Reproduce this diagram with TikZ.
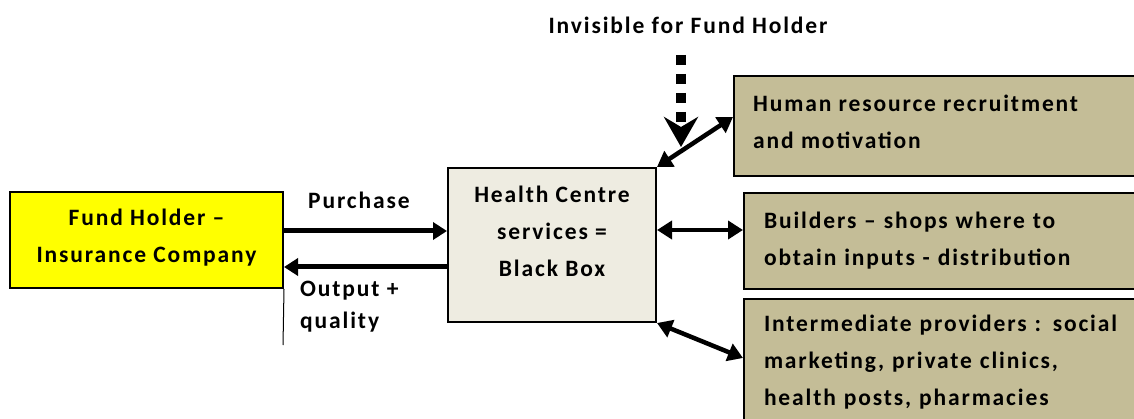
\documentclass[tikz,border=0pt]{standalone}
\usepackage{fontspec}
\setmainfont{Carlito}[LetterSpace=8]
\usetikzlibrary{arrows.meta}
\definecolor{fundyellow}{HTML}{FFFF00}
\definecolor{boxlight}{HTML}{EEECE1}
\definecolor{boxtan}{HTML}{C4BD97}
\begin{document}
\begin{tikzpicture}[x=1pt,y=-1pt,
  every node/.style={font=\bfseries\fontsize{23.5}{37}\selectfont},
  frame/.style={draw=black,line width=2pt,rectangle,inner sep=0pt},
  sidebox/.style={frame,fill=boxtan,anchor=north west,minimum width=430pt,
    text width=390pt,inner xsep=20pt,align=left},
  bigarrow/.style={line width=5pt,-{Triangle[length=14pt,width=17pt]}},
  duoarrow/.style={line width=4.5pt,{Triangle[length=15pt,width=18pt]}-{Triangle[length=15pt,width=18pt]}},
  lbl/.style={inner sep=0pt}]
\useasboundingbox (0,0) rectangle (1134,419);
\clip (0,0) rectangle (1134,419);

% left and central boxes
\node[frame,fill=fundyellow,minimum width=273pt,minimum height=96pt]
  (fund) at (146.5,240) {};
\node[lbl,align=center] (fundtext) at ([yshift=2pt]fund.center)
  {Fund Holder –\\Insurance Company};
\node[frame,fill=boxlight,minimum width=208pt,minimum height=154pt]
  (hc) at (552,245) {};
\node[lbl,align=center,anchor=north] (hctext) at ([yshift=-19pt]hc.north)
  {Health Centre\\services =\\Black Box};

% boxes on the right
\node[sidebox,minimum height=100pt] (hr) at (733,75) {};
\node[lbl,align=left,anchor=west] (hrtext) at ([xshift=20pt,yshift=4pt]hr.west)
  {Human resource recruitment\\and motivation};
\node[sidebox,minimum height=96pt] (bld) at (743,192)
  {Builders – shops where to\\obtain inputs - distribution};
\node[sidebox,minimum height=127pt] (inter) at (743,298)
  {Intermediate providers : social\\marketing, private clinics,\\health posts, pharmacies};

% purchase and output flows
\draw[bigarrow] (fund.east |- 0,231) -- (hc.west |- 0,231);
\draw[bigarrow] (hc.west |- 0,267) -- (fund.east |- 0,267);
\node[lbl] (purch) at (359,200) {Purchase};
\node[lbl,align=left,anchor=north west,font=\bfseries\fontsize{23.5}{32}\selectfont]
  (outq) at (300,281) {Output +\\quality};
\coordinate (stemtop) at (fund.south east);
\coordinate (stembot) at (283,345);
\draw[line width=1pt] (stemtop) -- (stembot);

% invisible influence
\node[lbl] (invis) at (688,25) {Invisible for Fund Holder};
\coordinate (dtop) at (681,55);
\coordinate (dtip) at (681,147);
\draw[line width=10pt,dash pattern=on 10pt off 9pt,
  -{Stealth[length=30pt,width=34pt,inset=10pt]}] (dtop) -- (dtip);

% links between the centre and its suppliers
\draw[duoarrow] (hc.north east) -- (hr.west |- 0,117);
\draw[duoarrow] (hc.east |- 0,230) -- (bld.west |- 0,230);
\draw[duoarrow] (hc.south east) -- (inter.west |- 0,358);
\end{tikzpicture}
\end{document}
